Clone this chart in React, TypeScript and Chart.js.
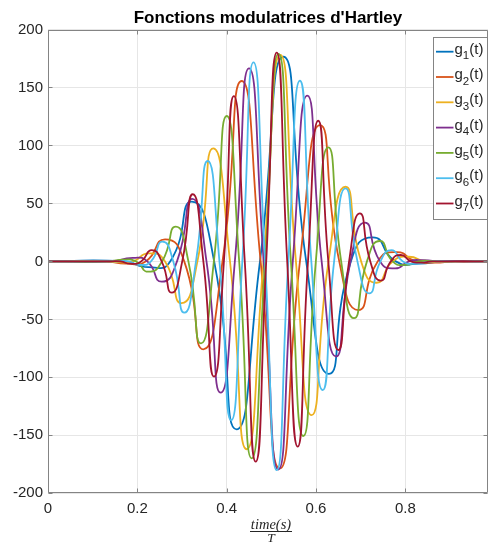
import React, { useEffect, useRef } from 'react';
import { Chart, registerables } from 'chart.js';

Chart.register(...registerables);

const TITLE = "Fonctions modulatrices d'Hartley";
const X_LABEL_NUM = 'time(s)';
const X_LABEL_DEN = 'T';
const X_TICKS = [0, 0.2, 0.4, 0.6, 0.8];
const Y_TICKS = [-200, -150, -100, -50, 0, 50, 100, 150, 200];
const X_MIN = 0;
const X_MAX = 0.985;
const Y_MIN = -200;
const Y_MAX = 200;

const SERIES_LABELS = ['1', '2', '3', '4', '5', '6', '7'];
const COLORS = ['#0072BD', '#D95319', '#EDB120', '#7E2F8E', '#77AC30', '#4DBEEE', '#A2142F'];

// g1(t)
const T_G1 = [0, 0.17, 0.225, 0.2735, 0.322, 0.372, 0.422, 0.4745, 0.527, 0.578, 0.629, 0.678, 0.727, 0.7785, 0.83, 0.885, 0.985];
const V_G1 = [0, 0, -5, 0, 51.5, 0, -144.8, 0, 176.5, 0, -97, 0, 20.8, 0, -2, 0, 0];
// g2(t)
const T_G2 = [0, 0.13, 0.175, 0.2185, 0.262, 0.305, 0.3477, 0.3906, 0.4335, 0.476, 0.519, 0.564, 0.609, 0.652, 0.6947, 0.738, 0.781, 0.823, 0.865, 0.91, 0.985];
const V_G2 = [0, 0, -2, 0, 19, 0, -75.8, 0, 155.6, 0, -178.5, 0, 117.6, 0, -42, 0, 8, 0, -1, 0, 0];
// g3(t)
const T_G3 = [0, 0.12, 0.155, 0.19, 0.225, 0.262, 0.299, 0.3345, 0.37, 0.4074, 0.4448, 0.4824, 0.52, 0.555, 0.59, 0.628, 0.666, 0.701, 0.7358, 0.772, 0.808, 0.844, 0.88, 0.92, 0.985];
const V_G3 = [0, 0, -0.7, 0, 7, 0, -36, 0, 97.5, 0, -162, 0, 178, 0, -132.5, 0, 64.4, 0, -18.4, 0, 4, 0, -0.5, 0, 0];
// g4(t)
const T_G4 = [0, 0.14, 0.19, 0.2223, 0.2545, 0.2888, 0.323, 0.3548, 0.3866, 0.4183, 0.45, 0.4828, 0.5155, 0.548, 0.5805, 0.6126, 0.6447, 0.6772, 0.7097, 0.7434, 0.777, 0.8085, 0.84, 0.88, 0.985];
const V_G4 = [0, 0, 3, 0, -17.5, 0, 54, 0, -113.2, 0, 166.5, 0, -179.5, 0, 143, 0, -82, 0, 33.4, 0, -6, 0, 1, 0, 0];
// g5(t)
const T_G5 = [0, 0.135, 0.17, 0.197, 0.2245, 0.2553, 0.286, 0.3143, 0.3425, 0.3713, 0.4, 0.428, 0.456, 0.486, 0.516, 0.5438, 0.5716, 0.5996, 0.6275, 0.6563, 0.685, 0.714, 0.743, 0.7715, 0.8, 0.83, 0.86, 0.9, 0.985];
const V_G5 = [0, 0, 1.5, 0, -8.9, 0, 30, 0, -70.7, 0, 125.4, 0, -169.8, 0, 179, 0, -150.6, 0, 98.4, 0, -49, 0, 17.6, 0, -3, 0, 0.4, 0, 0];
// g6(t)
const T_G6 = [0, 0.15, 0.18, 0.205, 0.2305, 0.256, 0.2805, 0.305, 0.3313, 0.3575, 0.3838, 0.41, 0.435, 0.46, 0.486, 0.512, 0.538, 0.564, 0.5895, 0.615, 0.6405, 0.666, 0.6927, 0.7193, 0.7442, 0.769, 0.7945, 0.82, 0.86, 0.985];
const V_G6 = [0, 0, 0, -3, 0, 17, 0, -44.2, 0, 86.6, 0, -137, 0, 171.7, 0, -180, 0, 155.8, 0, -111, 0, 63, 0, -27.5, 0, 9.8, 0, -2, 0, 0];
// g7(t)
const T_G7 = [0, 0.14, 0.162, 0.185, 0.2085, 0.232, 0.2545, 0.277, 0.3005, 0.324, 0.3478, 0.3716, 0.3938, 0.416, 0.4405, 0.465, 0.4885, 0.512, 0.5355, 0.559, 0.582, 0.605, 0.6275, 0.65, 0.674, 0.698, 0.7215, 0.745, 0.7675, 0.79, 0.8125, 0.835, 0.86, 0.985];
const V_G7 = [0, 0, 0, -2, 0, 9.8, 0, -27, 0, 57.9, 0, -99.4, 0, 142.6, 0, -172.7, 0, 180, 0, -159.8, 0, 121.3, 0, -76.4, 0, 41.5, 0, -16.6, 0, 5.5, 0, -1, 0, 0];

const SERIES_T = [T_G1, T_G2, T_G3, T_G4, T_G5, T_G6, T_G7];
const SERIES_V = [V_G1, V_G2, V_G3, V_G4, V_G5, V_G6, V_G7];

const SANS = '"Liberation Sans", Arial, Helvetica, sans-serif';
const SERIF = '"Liberation Serif", "DejaVu Serif", serif';
const AXIS_COLOR = '#848484';
const TEXT_COLOR = '#262626';
const GRID_COLOR = '#e6e6e6';

export default function App() {
  const ref = useRef<HTMLCanvasElement | null>(null);

  useEffect(() => {
    const canvas = ref.current;
    if (!canvas) return;

    const datasets = SERIES_T.map((ts, i) => {
      const vs = SERIES_V[i];
      const n = Math.min(ts.length, vs.length);
      const data = [] as { x: number; y: number }[];
      for (let j = 0; j < n; j++) data.push({ x: ts[j], y: vs[j] });
      return {
        label: `g${SERIES_LABELS[i]}(t)`,
        data,
        borderColor: COLORS[i],
        backgroundColor: COLORS[i],
        borderWidth: 1.8,
        pointRadius: 0,
        pointHoverRadius: 0,
        tension: 0.6,
        fill: false,
        order: 6 - i,
      };
    });

    const overlay = {
      id: 'overlay',
      afterDatasetsDraw(chart: any) {
        const { ctx, chartArea: a, scales } = chart;
        ctx.save();
        ctx.strokeStyle = AXIS_COLOR;
        ctx.lineWidth = 1;
        const L = Math.round(a.left) + 0.5;
        const R = Math.round(a.right) - 0.5;
        const T = Math.round(a.top) + 0.5;
        const B = Math.round(a.bottom) - 0.5;
        ctx.beginPath();
        ctx.rect(L, T, R - L, B - T);
        ctx.stroke();
        ctx.beginPath();
        for (const v of X_TICKS) {
          const px = Math.round(scales.x.getPixelForValue(v)) + 0.5;
          ctx.moveTo(px, B);
          ctx.lineTo(px, B - 4);
          ctx.moveTo(px, T);
          ctx.lineTo(px, T + 4);
        }
        for (const v of Y_TICKS) {
          const py = Math.round(scales.y.getPixelForValue(v)) + 0.5;
          ctx.moveTo(L, py);
          ctx.lineTo(L + 4, py);
          ctx.moveTo(R, py);
          ctx.lineTo(R - 4, py);
        }
        ctx.stroke();
        ctx.restore();
      },
      afterDraw(chart: any) {
        const { ctx, chartArea: a } = chart;
        ctx.save();
        const cx = (a.left + a.right) / 2;
        ctx.fillStyle = '#000';
        ctx.font = `bold 17px ${SANS}`;
        ctx.textAlign = 'center';
        ctx.textBaseline = 'alphabetic';
        ctx.fillText(TITLE, cx, 23);

        const lx = cx + 3;
        ctx.fillStyle = TEXT_COLOR;
        ctx.font = `italic 14.5px ${SERIF}`;
        const numW = ctx.measureText(X_LABEL_NUM).width;
        ctx.fillText(X_LABEL_NUM, lx, 528.5);
        ctx.fillRect(Math.round(lx - numW / 2 - 1), 531, Math.round(numW + 2), 1);
        ctx.font = `italic 13.5px ${SERIF}`;
        ctx.fillText(X_LABEL_DEN, lx, 542);

        const bx = 433.5, by = 37.5, bw = 54, bh = 182;
        ctx.fillStyle = '#ffffff';
        ctx.fillRect(bx, by, bw, bh);
        ctx.strokeStyle = AXIS_COLOR;
        ctx.lineWidth = 1;
        ctx.strokeRect(bx, by, bw, bh);
        chart.data.datasets.forEach((ds: any, i: number) => {
          const y = 51.7 + 25.3 * i;
          ctx.strokeStyle = ds.borderColor;
          ctx.lineWidth = 1.8;
          ctx.beginPath();
          ctx.moveTo(436, y);
          ctx.lineTo(453.5, y);
          ctx.stroke();
          ctx.fillStyle = TEXT_COLOR;
          ctx.textAlign = 'left';
          ctx.textBaseline = 'alphabetic';
          ctx.font = `15px ${SANS}`;
          let x = 454.5;
          ctx.fillText('g', x, y + 2);
          x += ctx.measureText('g').width;
          ctx.font = `11.5px ${SANS}`;
          ctx.fillText(SERIES_LABELS[i], x, y + 7.5);
          x += ctx.measureText(SERIES_LABELS[i]).width;
          ctx.font = `15px ${SANS}`;
          ctx.fillText('(t)', x, y + 2);
        });
        ctx.restore();
      },
    };

    const chart = new Chart(canvas, {
      type: 'line',
      data: { datasets: datasets as any },
      options: {
        responsive: false,
        maintainAspectRatio: false,
        devicePixelRatio: 1,
        animation: false,
        events: [],
        layout: { padding: { left: 0, top: 29.5, right: 1, bottom: 0 } },
        plugins: {
          legend: { display: false },
          title: { display: false },
          tooltip: { enabled: false },
        },
        scales: {
          x: {
            type: 'linear',
            min: X_MIN,
            max: X_MAX,
            afterFit: (s: any) => { s.height = 50.7; },
            afterBuildTicks: (s: any) => { s.ticks = X_TICKS.map((v) => ({ value: v })); },
            ticks: {
              includeBounds: false,
              autoSkip: false,
              maxRotation: 0,
              padding: 7,
              color: TEXT_COLOR,
              font: { family: SANS, size: 15 },
              callback: (v: any) => String(Math.round(Number(v) * 10) / 10),
            },
            grid: { color: GRID_COLOR, drawTicks: false, lineWidth: 1 },
            border: { display: false },
          },
          y: {
            type: 'linear',
            min: Y_MIN,
            max: Y_MAX,
            afterFit: (s: any) => { s.width = 48; },
            afterBuildTicks: (s: any) => { s.ticks = Y_TICKS.map((v) => ({ value: v })); },
            ticks: {
              autoSkip: false,
              padding: 5,
              color: TEXT_COLOR,
              font: { family: SANS, size: 15 },
              callback: (v: any) => String(v),
            },
            grid: { color: GRID_COLOR, drawTicks: false, lineWidth: 1 },
            border: { display: false },
          },
        },
      } as any,
      plugins: [overlay],
    });

    return () => chart.destroy();
  }, []);

  return (
    <div style={{ position: 'fixed', left: 0, top: 0, width: 489, height: 544, background: '#ffffff' }}>
      <canvas ref={ref} width={489} height={544} style={{ display: 'block', width: 489, height: 544 }} />
    </div>
  );
}
